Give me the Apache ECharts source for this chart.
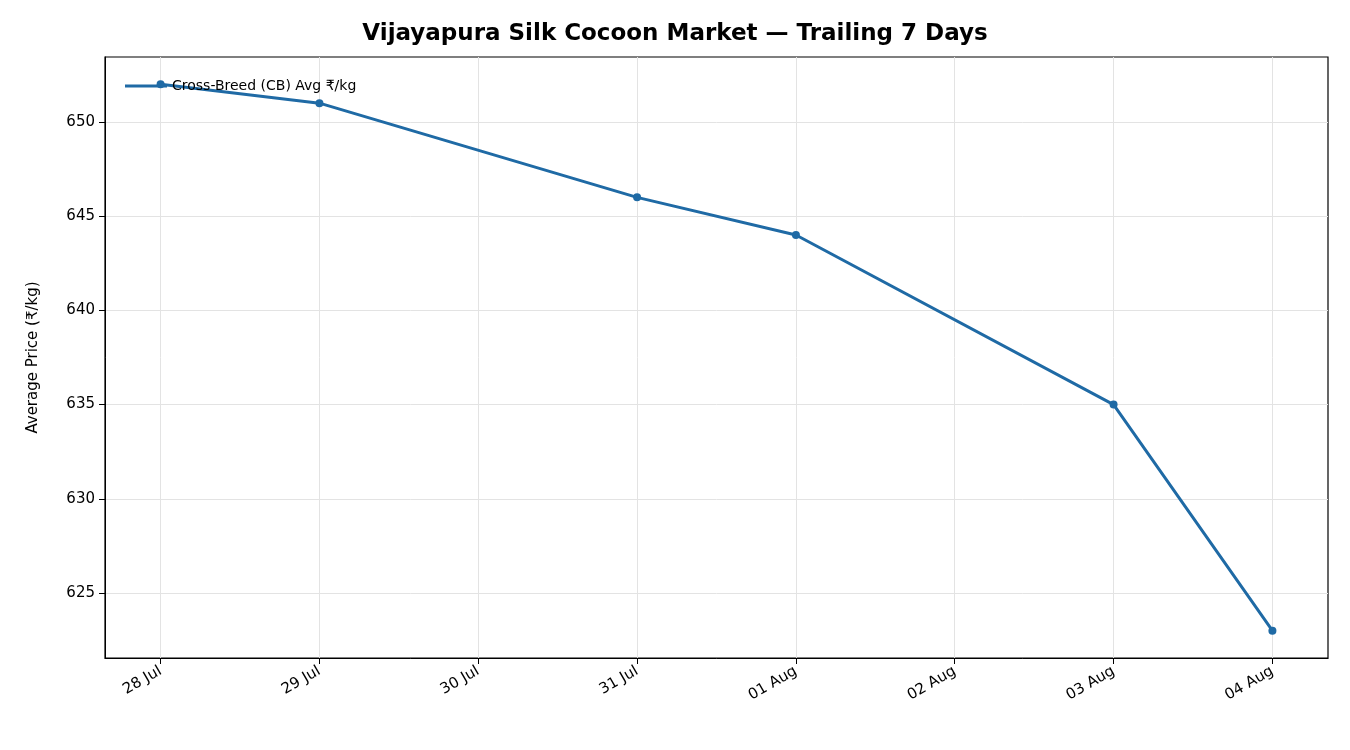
<!DOCTYPE html>
<html><head><meta charset="utf-8">
<script src="https://cdn.jsdelivr.net/npm/echarts@6/dist/echarts.min.js"></script>
<style>html,body{margin:0;padding:0;background:#fff}#c{width:1350px;height:750px}</style>
</head><body><div id="c"></div>
<script>
const tickLabels = ['28 Jul','29 Jul','30 Jul','31 Jul','01 Aug','02 Aug','03 Aug','04 Aug'];
const dayIndex = [0,1,3,4,6,7];
const prices = [652,651,646,644,635,623];
const seriesName = 'Cross-Breed (CB) Avg ₹/kg';
const yTicks = [625,630,635,640,645,650];
const ticks = tickLabels.map((_, i) => i);
const chart = echarts.init(document.getElementById('c'));
chart.setOption({
  animation: false,
  title: {text: 'Vijayapura Silk Cocoon Market — Trailing 7 Days', left: 'center', top: 18,
    textStyle: {fontFamily: 'DejaVu Sans', fontSize: 23, fontWeight: 'bold', color: '#000'}},
  legend: {left: 120, top: 74, icon: 'path://M0,5 L30,5 L30,7 L0,7 Z', itemWidth: 42, itemHeight: 8, itemGap: 6,
    textStyle: {fontFamily: 'DejaVu Sans', fontSize: 14, color: '#000'}, data: [seriesName]},
  grid: {left: 105, right: 22, top: 57, bottom: 92, show: true, borderColor: '#000', borderWidth: 1.2, backgroundColor: 'transparent'},
  xAxis: {type: 'value', min: -0.35, max: 7.35,
    axisLine: {show: true, onZero: false, lineStyle: {color: '#000'}},
    axisTick: {show: true, customValues: ticks, length: 6, lineStyle: {color: '#000'}},
    splitLine: {show: true, lineStyle: {color: '#e3e3e3'}},
    axisLabel: {customValues: ticks, rotate: 30, formatter: v => tickLabels[Math.round(v)],
      fontFamily: 'DejaVu Sans', fontSize: 15, color: '#000', margin: 12}},
  yAxis: {type: 'value', min: 621.55, max: 653.45, name: 'Average Price (₹/kg)', nameLocation: 'middle', nameGap: 64,
    nameTextStyle: {fontFamily: 'DejaVu Sans', fontSize: 15, color: '#000'},
    axisLine: {show: true, onZero: false, lineStyle: {color: '#000'}},
    axisTick: {show: true, customValues: yTicks, length: 6, lineStyle: {color: '#000'}},
    splitLine: {show: true, lineStyle: {color: '#e3e3e3'}},
    axisLabel: {customValues: yTicks, fontFamily: 'DejaVu Sans', fontSize: 15, color: '#000', margin: 10}},
  series: [{name: seriesName, type: 'line', data: dayIndex.map((d, i) => [d, prices[i]]),
    symbol: 'circle', symbolSize: 8, lineStyle: {width: 3, color: '#1f6aa5'}, itemStyle: {color: '#1f6aa5'}}]
});
</script></body></html>
